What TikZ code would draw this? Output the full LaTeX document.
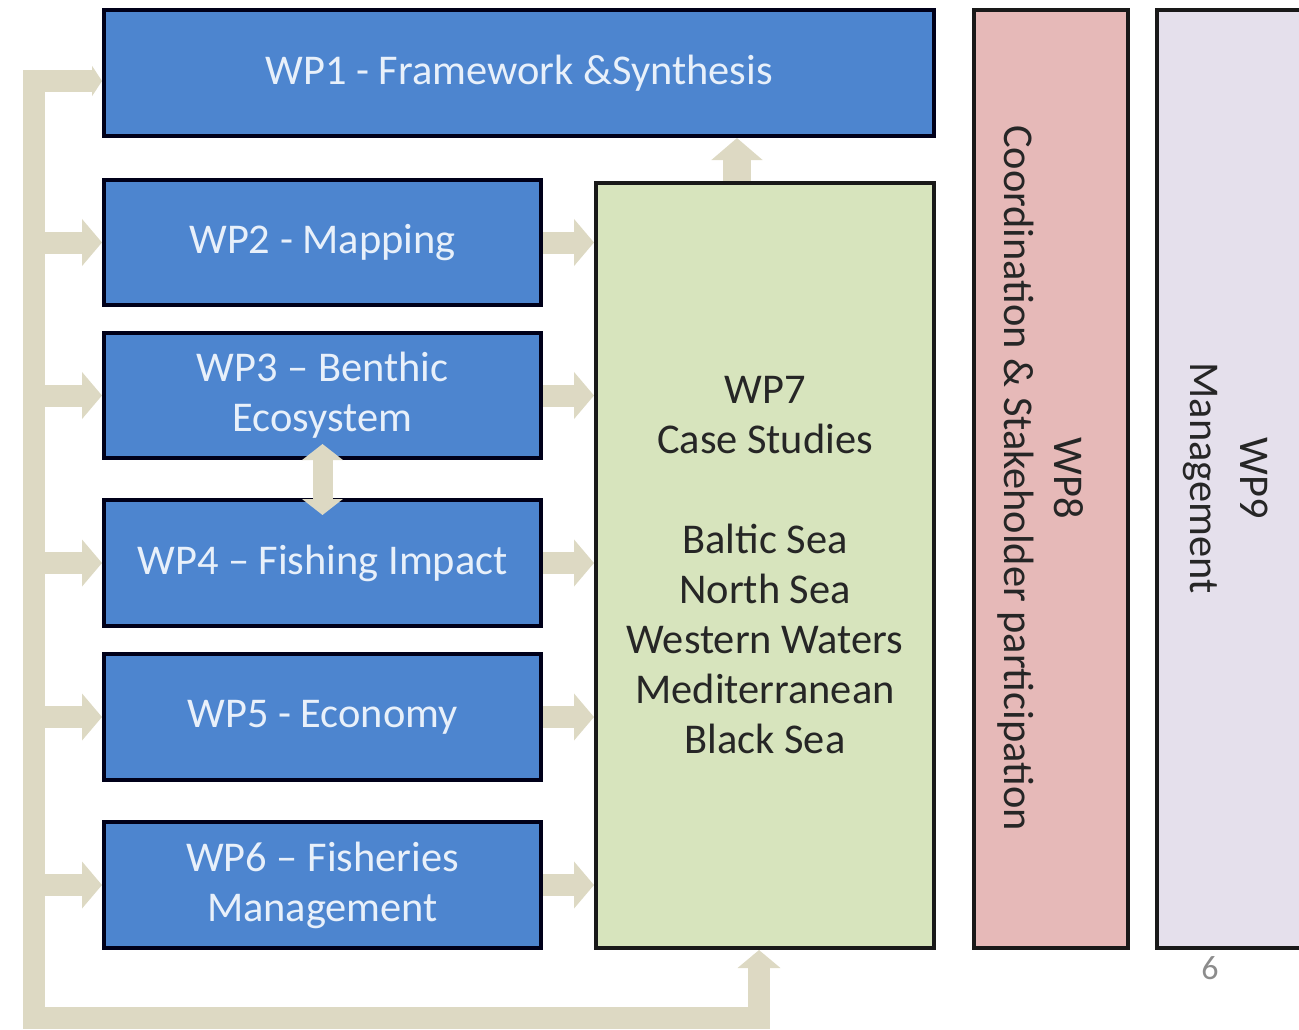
\documentclass[tikz,border=0pt]{standalone}
\usepackage{fontspec}
\setmainfont{Carlito}
\usetikzlibrary{arrows.meta,backgrounds}
\definecolor{wpblue}{RGB}{77,133,207}
\definecolor{wptext}{RGB}{232,240,250}
\definecolor{wpgreen}{RGB}{215,228,189}
\definecolor{wppink}{RGB}{230,185,184}
\definecolor{wplav}{RGB}{229,224,236}
\definecolor{wptan}{RGB}{221,217,195}
\tikzset{
  wpbox/.style={draw=black!90!blue, line width=2pt, fill=wpblue, text=wptext, align=center,
    font=\fontsize{21.2pt}{25pt}\selectfont, inner sep=0pt},
  sidebox/.style={draw=black!90, line width=2pt, inner sep=0pt},
  conn/.style={draw=wptan, line width=11pt, -{Triangle[width=23pt,length=10pt]}},
  loopconn/.style={draw=wptan, line width=11pt, line join=miter,
    {Triangle[width=21pt,length=9pt]}-{Triangle[width=15pt,length=5pt]}},
  bigconn/.style={draw=wptan, line width=14pt, -{Triangle[width=25pt,length=11pt]}},
  dblconn/.style={draw=wptan, line width=10pt, {Triangle[width=20pt,length=8pt]}-{Triangle[width=20pt,length=8pt]}},
  darktext/.style={text=black!85, align=center, font=\fontsize{21.2pt}{25pt}\selectfont}
}
\begin{document}
\begin{tikzpicture}[x=0.5pt,y=-0.5pt]
\clip (0,0) rectangle (1299,1029);
% boxes
\node[wpbox, minimum width=415pt, minimum height=63pt] (wp1) at (519,73) {WP1 - Framework \&Synthesis};
\node[wpbox, minimum width=218.5pt, minimum height=62.5pt] (wp2) at (322.5,242.5) {WP2 - Mapping};
\node[wpbox, minimum width=218.5pt, minimum height=62.5pt] (wp3) at (322.5,395.5) {WP3 – Benthic\\Ecosystem};
\node[wpbox, minimum width=218.5pt, minimum height=63pt] (wp4) at (322.5,563) {WP4 – Fishing Impact};
\node[wpbox, minimum width=218.5pt, minimum height=63pt] (wp5) at (322.5,717) {WP5 - Economy};
\node[wpbox, minimum width=218.5pt, minimum height=63pt] (wp6) at (322.5,885) {WP6 – Fisheries\\Management};
\node[sidebox, fill=wpgreen, minimum width=169pt, minimum height=382.5pt, darktext] (wp7) at (765,565.5)
  {WP7\\Case Studies\\[25pt]Baltic Sea\\North Sea\\Western Waters\\Mediterranean\\Black Sea};
\node[sidebox, fill=wppink, minimum width=77pt, minimum height=469pt] (wp8) at (1051,479) {};
\node[darktext, rotate=-90] (wp8t) at (1041,478) {WP8\\Coordination \& Stakeholder participation};
\node[sidebox, fill=wplav, minimum width=86.5pt, minimum height=469pt] (wp9) at (1243.5,479) {};
\node[darktext, rotate=-90] (wp9t) at (1226,478) {WP9\\Management};
\node[text=black!45, font=\fontsize{17pt}{19pt}\selectfont] (pg) at (1210,968) {6};
% connectors
\coordinate (bustop) at (33.5,81);
\coordinate (busbot) at (33.5,1018);
\coordinate (busend) at (759,1018);
\begin{scope}[on background layer]
\draw[loopconn] (busend |- wp7.south) -- (busend) -- (busbot) -- (bustop) -- (bustop -| wp1.west);
\foreach \w in {wp2,wp3,wp4,wp5,wp6}{
  \draw[conn] (\w.west -| bustop) -- (\w.west);
  \draw[conn] (\w.east) -- (\w.east -| wp7.west);
}
\draw[bigconn] ([xshift=-14pt]wp7.north) -- ([xshift=-14pt]wp7.north |- wp1.south);
\end{scope}
\draw[dblconn] ([yshift=8pt]wp3.south) -- ([yshift=-8.5pt]wp4.north);
\end{tikzpicture}
\end{document}
